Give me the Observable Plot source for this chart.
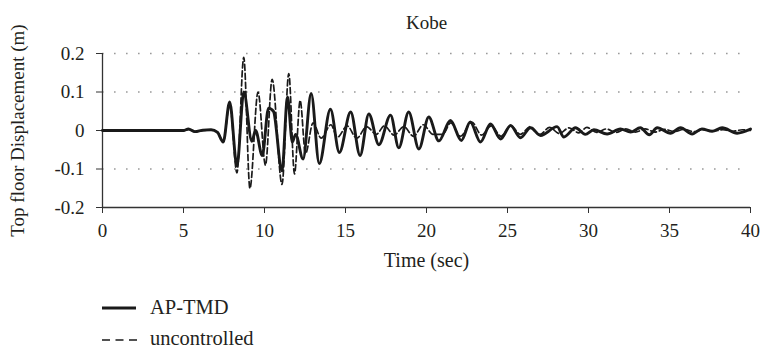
<!DOCTYPE html>
<html>
<head>
<meta charset="utf-8">
<script src="https://cdn.jsdelivr.net/npm/d3@7"></script>
<script src="https://cdn.jsdelivr.net/npm/@observablehq/plot@0.6"></script>
<style>
  body { margin: 0; background: #fff; font-family: "Liberation Serif", serif; color: #231f20; }
  #legend { position: relative; height: 73px; width: 762px; font-size: 20.5px; }
  .lg { position: absolute; left: 0; }
  .lt { position: absolute; left: 150px; line-height: 22px; }
</style>
</head>
<body>
<div id="chart"></div>
<div id="legend">
  <svg class="lg" width="762" height="73" style="top:0">
    <line x1="102" x2="136" y1="28" y2="28" stroke="#1a1a1a" stroke-width="2.8"></line>
    <line x1="102" x2="137" y1="60" y2="60" stroke="#1a1a1a" stroke-width="1.7" stroke-dasharray="8 5.5"></line>
  </svg>
  <div class="lt" style="top:16px">AP-TMD</div>
  <div class="lt" style="top:47px">uncontrolled</div>
</div>
<script>
// AP-TMD (solid) — times (s) and top floor displacement (m) at turning points
const apTime = [0, 5.0, 5.3, 5.7, 6.2, 6.7, 7.1, 7.45, 7.85, 8.3, 8.72, 9.22, 9.45, 9.86, 10.25, 10.55, 11.08, 11.42, 11.72, 11.92, 12.38, 12.88, 13.38, 14.07, 14.62, 15.32, 15.9, 16.44, 17.06, 17.78, 18.29, 18.9, 19.53, 20.14, 20.76, 21.48, 22.15, 22.7, 23.33, 23.95, 24.57, 25.19, 25.8, 26.42, 27.04, 28.06, 28.48, 29.2, 29.8, 30.33, 31.15, 31.97, 32.6, 33.2, 33.75, 34.24, 35.06, 35.68, 36.4, 37.0, 37.63, 38.25, 39.17, 40];
const apDisp = [0, 0, 0.004, -0.003, 0.001, 0.002, -0.005, -0.03, 0.074, -0.092, 0.1, -0.028, 0.0, -0.065, 0.058, 0.05, -0.105, 0.087, -0.03, -0.01, -0.074, 0.096, -0.086, 0.055, -0.057, 0.048, -0.065, 0.043, -0.037, 0.04, -0.045, 0.048, -0.048, 0.035, -0.027, 0.026, -0.026, 0.022, -0.03, 0.017, -0.022, 0.013, -0.019, 0.007, -0.013, 0.01, -0.017, 0.007, -0.01, 0.002, -0.009, 0.004, -0.004, 0.007, -0.011, 0.007, -0.007, 0.007, -0.009, 0.004, -0.002, 0.007, -0.007, 0.004];

// uncontrolled (dashed)
const unTime = [0, 5.0, 5.3, 5.7, 6.7, 7.1, 7.45, 7.85, 8.3, 8.72, 9.1, 9.6, 10.06, 10.47, 11.08, 11.5, 11.85, 12.2, 12.53, 13.0, 13.5, 14.1, 14.5, 15.1, 15.7, 16.3, 16.9, 17.4, 18.0, 18.6, 19.2, 19.8, 20.4, 21.0, 21.5, 22.1, 22.8, 23.4, 24.0, 24.6, 25.2, 25.8, 26.4, 27.0, 27.6, 28.2, 28.8, 29.4, 29.9, 30.5, 31.1, 31.7, 32.3, 32.9, 33.5, 34.1, 34.7, 35.3, 35.9, 36.5, 37.1, 37.7, 38.3, 38.9, 39.5, 40];
const unDisp = [0, 0, 0.003, -0.003, 0.002, -0.004, -0.03, 0.07, -0.11, 0.19, -0.15, 0.10, -0.09, 0.133, -0.14, 0.148, -0.113, 0.078, -0.06, 0.02, -0.02, 0.015, -0.018, 0.012, -0.02, 0.01, -0.01, 0.012, -0.012, 0.01, -0.015, 0.015, -0.01, -0.01, 0.02, -0.015, 0.022, -0.012, 0.012, -0.015, 0.012, -0.01, 0.01, -0.01, 0.008, -0.008, 0.007, -0.006, 0.008, -0.005, 0.004, -0.005, 0.004, -0.004, 0.004, -0.004, 0.003, -0.003, 0.003, -0.003, 0.002, -0.002, 0.002, -0.002, 0.002, 0];

const xTicks = [0, 5, 10, 15, 20, 25, 30, 35, 40];
const yTicks = [-0.2, -0.1, 0, 0.1, 0.2];
const gridValues = [0.2, 0.1, -0.1];
const title = "Kobe";
const xLabel = "Time (sec)";
const yLabel = "Top floor Displacement (m)";

const ap = apTime.map((t, i) => ({t, v: apDisp[i]}));
const un = unTime.map((t, i) => ({t, v: unDisp[i]}));

const chart = Plot.plot({
  width: 762,
  height: 280,
  marginLeft: 102,
  marginRight: 12,
  marginTop: 53,
  marginBottom: 73,
  style: {fontFamily: "'Liberation Serif', serif", fontSize: "19px", color: "#231f20", background: "#fff"},
  x: {domain: [0, 40]},
  y: {domain: [-0.2, 0.2]},
  marks: [
    Plot.ruleY(gridValues, {stroke: "#9a9a9a", strokeWidth: 1.6, strokeDasharray: "1.6 10.4"}),
    Plot.axisX({ticks: xTicks, tickSize: 6, tickPadding: 10, tickFormat: d => String(d), label: null, stroke: "#333"}),
    Plot.axisY({ticks: yTicks, tickSize: 6, tickPadding: 12, tickFormat: d => String(d), label: null, stroke: "#333"}),
    Plot.ruleX([0], {stroke: "#333", strokeWidth: 1.3}),
    Plot.ruleY([-0.2], {stroke: "#333", strokeWidth: 1.3}),
    Plot.line(ap, {x: "t", y: "v", curve: "monotone-x", stroke: "#1a1a1a", strokeWidth: 2.9}),
    Plot.line(un, {x: "t", y: "v", curve: "monotone-x", stroke: "#1a1a1a", strokeWidth: 1.7, strokeDasharray: "6 3"}),
    Plot.text([title], {frameAnchor: "top", dy: -38, fill: "#231f20"}),
    Plot.text([xLabel], {frameAnchor: "bottom", dy: 59, fill: "#231f20", fontSize: 20}),
    Plot.text([yLabel], {frameAnchor: "left", dx: -85, rotate: -90, textAnchor: "middle", fill: "#231f20"})
  ]
});
document.getElementById("chart").appendChild(chart);
</script>
</body>
</html>
